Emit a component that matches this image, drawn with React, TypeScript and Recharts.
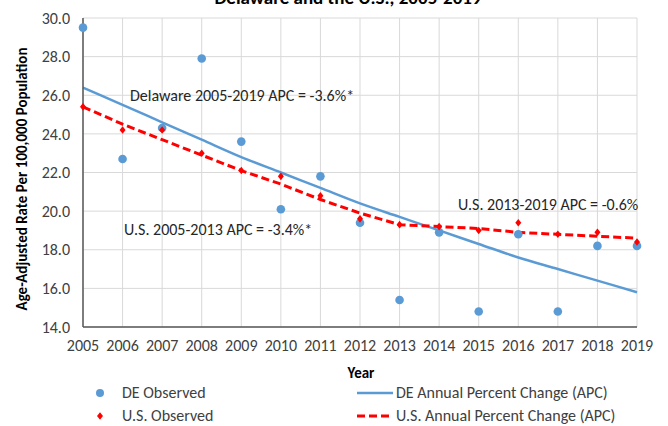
import React from 'react';
import { ComposedChart, Line, XAxis, YAxis, CartesianGrid } from 'recharts';

const years = [2005, 2006, 2007, 2008, 2009, 2010, 2011, 2012, 2013, 2014, 2015, 2016, 2017, 2018, 2019];
const deObserved = [29.5, 22.7, 24.3, 27.9, 23.6, 20.1, 21.8, 19.4, 15.4, 18.9, 14.8, 18.8, 14.8, 18.2, 18.2];
const usObserved = [25.4, 24.2, 24.2, 23.0, 22.1, 21.8, 20.8, 19.6, 19.3, 19.2, 19.0, 19.4, 18.8, 18.9, 18.4];
const deApc = [26.4, 25.5, 24.6, 23.7, 22.8, 22.0, 21.2, 20.4, 19.7, 19.0, 18.3, 17.6, 17.0, 16.4, 15.8];
const usApc = [25.4, 24.5, 23.7, 22.9, 22.1, 21.4, 20.6, 19.9, 19.3, 19.2, 19.1, 18.9, 18.8, 18.7, 18.6];
const yTicks = [14, 16, 18, 20, 22, 24, 26, 28, 30];

const title = 'Delaware and the U.S., 2005-2019';
const yTitle = 'Age-Adjusted Rate Per 100,000 Population';
const xTitle = 'Year';
const notes = [
  'Delaware 2005-2019 APC = -3.6%*',
  'U.S. 2005-2013 APC = -3.4%*',
  'U.S. 2013-2019 APC = -0.6%',
];
const legendNames = ['DE Observed', 'U.S. Observed', 'DE Annual Percent Change (APC)', 'U.S. Annual Percent Change (APC)'];

const data = years.map((year, i) => ({
  year,
  deObs: deObserved[i],
  usObs: usObserved[i],
  deApc: deApc[i],
  usApc: usApc[i],
}));

const BLUE = '#5B9BD5';
const RED = '#FF0000';
const FONT = 'Carlito, Lato, "Liberation Sans", sans-serif';

const Diamond = (props: any) => {
  const { cx, cy, index } = props;
  if (cx == null || cy == null) return <g key={`d-${index}`} />;
  return (
    <polygon
      key={`d-${index}`}
      points={`${cx},${cy - 3.8} ${cx + 3},${cy} ${cx},${cy + 3.8} ${cx - 3},${cy}`}
      fill={RED}
    />
  );
};

export default function App() {
  return (
    <div style={{ position: 'absolute', left: 0, top: 0, width: 668, height: 426, background: '#fff', overflow: 'hidden' }}>
      <ComposedChart
        width={668}
        height={426}
        data={data}
        margin={{ top: 18, right: 31, bottom: 0, left: 0 }}
      >
        <CartesianGrid stroke="#d9d9d9" strokeWidth={1} />
        <XAxis
          dataKey="year"
          type="number"
          domain={[2005, 2019]}
          ticks={years}
          interval={0}
          height={99}
          tickLine={false}
          tickSize={0}
          tickMargin={13}
          axisLine={{ stroke: '#595959', strokeWidth: 1.5 }}
          tick={{ fill: '#404040', fontSize: 16, fontFamily: FONT }}
        />
        <YAxis
          type="number"
          domain={[14, 30]}
          ticks={yTicks}
          interval={0}
          width={83}
          tickLine={false}
          tickSize={0}
          tickMargin={13}
          tickFormatter={(v: number) => v.toFixed(1)}
          axisLine={{ stroke: '#595959', strokeWidth: 1.5 }}
          tick={{ fill: '#404040', fontSize: 16, fontFamily: FONT }}
        />
        <Line
          dataKey="deApc"
          type="monotone"
          stroke={BLUE}
          strokeWidth={2.5}
          dot={false}
          activeDot={false}
          isAnimationActive={false}
        />
        <Line
          dataKey="usApc"
          type="linear"
          stroke={RED}
          strokeWidth={3}
          strokeDasharray="8 4"
          dot={false}
          activeDot={false}
          isAnimationActive={false}
        />
        <Line
          dataKey="deObs"
          stroke="none"
          dot={{ r: 4.3, fill: BLUE, stroke: 'none' }}
          activeDot={false}
          isAnimationActive={false}
        />
        <Line
          dataKey="usObs"
          stroke="none"
          dot={<Diamond />}
          activeDot={false}
          isAnimationActive={false}
        />
      </ComposedChart>
      <svg
        width={668}
        height={426}
        style={{ position: 'absolute', left: 0, top: 0, pointerEvents: 'none' }}
        fontFamily={FONT}
      >
        <text x={348} y={4} textAnchor="middle" fontSize={19} fontWeight="bold" fill="#000">{title}</text>
        <text
          transform="translate(27,179) rotate(-90)"
          textAnchor="middle"
          fontSize={15}
          fontWeight="bold"
          fill="#000"
        >
          {yTitle}
        </text>
        <text x={361} y={378} textAnchor="middle" fontSize={15} fontWeight="bold" fill="#000">{xTitle}</text>
        <text x={130} y={101} fontSize={16} fill="#262626">{notes[0]}</text>
        <text x={124} y={235} fontSize={16} fill="#262626">{notes[1]}</text>
        <text x={458} y={210} fontSize={16} fill="#262626">{notes[2]}</text>

        <circle cx={100} cy={393} r={4} fill={BLUE} />
        <text x={122} y={398} fontSize={16} fill="#404040">{legendNames[0]}</text>
        <polygon points="100,412.2 103,416 100,419.8 97,416" fill={RED} />
        <text x={122} y={421} fontSize={16} fill="#404040">{legendNames[1]}</text>
        <line x1={357} y1={393} x2={393} y2={393} stroke={BLUE} strokeWidth={2.5} />
        <text x={396} y={398} fontSize={16} fill="#404040">{legendNames[2]}</text>
        <line x1={357} y1={416} x2={393} y2={416} stroke={RED} strokeWidth={3} strokeDasharray="8 4" />
        <text x={396} y={421} fontSize={16} fill="#404040">{legendNames[3]}</text>
      </svg>
    </div>
  );
}
